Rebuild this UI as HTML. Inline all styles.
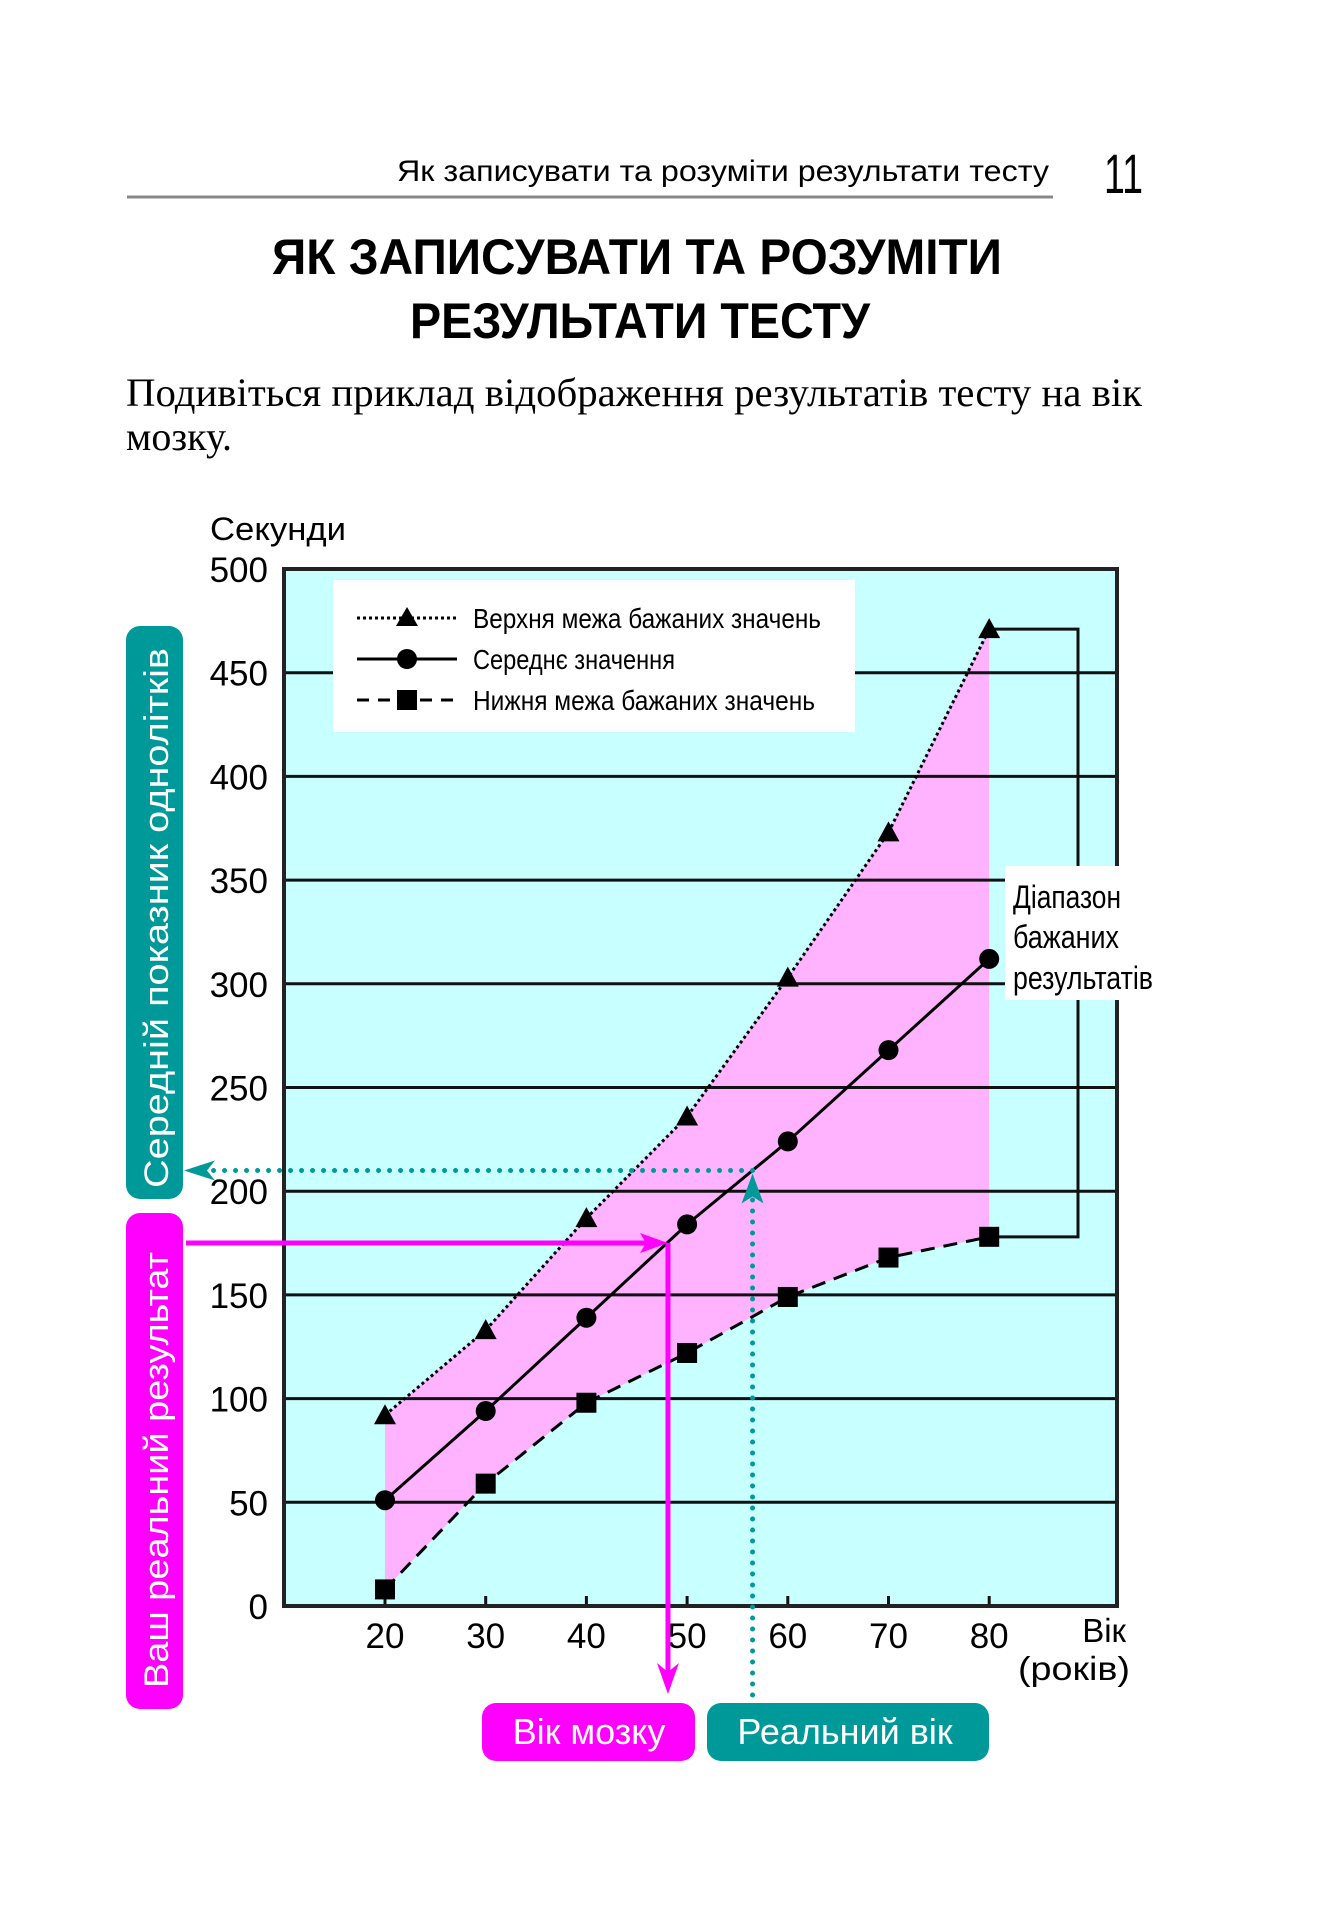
<!DOCTYPE html>
<html><head><meta charset="utf-8">
<style>
html,body{margin:0;padding:0;background:#fff;}
svg{display:block;}
text{font-family:"Liberation Sans","DejaVu Sans",sans-serif;}
.serif{font-family:"Liberation Serif","DejaVu Serif",serif;}
</style></head>
<body>
<svg id="page" width="1339" height="1929" viewBox="0 0 1339 1929" xmlns="http://www.w3.org/2000/svg">
  <text x="1049" y="181" font-size="30" text-anchor="end" textLength="652" lengthAdjust="spacingAndGlyphs">Як записувати та розуміти результати тесту</text>
  <line x1="127" y1="197" x2="1053" y2="197" stroke="#888" stroke-width="3"/>
  <text x="1104" y="193" font-size="56" textLength="39" lengthAdjust="spacingAndGlyphs">11</text>

  <text x="637" y="274" font-size="50" font-weight="bold" text-anchor="middle" textLength="730" lengthAdjust="spacingAndGlyphs">ЯК ЗАПИСУВАТИ ТА РОЗУМІТИ</text>
  <text x="640" y="338" font-size="50" font-weight="bold" text-anchor="middle" textLength="460" lengthAdjust="spacingAndGlyphs">РЕЗУЛЬТАТИ ТЕСТУ</text>

  <text class="serif" x="126" y="406" font-size="40" textLength="1016" lengthAdjust="spacingAndGlyphs">Подивіться приклад відображення результатів тесту на вік</text>
  <text class="serif" x="126" y="450" font-size="40" textLength="106" lengthAdjust="spacingAndGlyphs">мозку.</text>

  <g id="chart"></g>
</svg>
<script>
// ---- chart data ----
const ages = [20, 30, 40, 50, 60, 70, 80];
const upperValues = [92, 133, 187, 236, 303, 373, 471];
const meanValues = [51, 94, 139, 184, 224, 268, 312];
const lowerValues = [8, 59, 98, 122, 149, 168, 178];
const yTicks = [0, 50, 100, 150, 200, 250, 300, 350, 400, 450, 500];
const xTickLabels = ["20", "30", "40", "50", "60", "70", "80"];
const resultValue = 175;   // your actual result
const brainAge = 48.1;
const realAge = 56.5;
const peerValue = 210;

const NS = "http://www.w3.org/2000/svg";
const L = 284, R = 1117, T = 569, B = 1606;
function xs(a){ return 385 + (a - 20) * 10.07; }
function ys(v){ return B - v * 2.074; }
const g = document.getElementById('chart');
function mk(tag, attrs, parent){
  const e = document.createElementNS(NS, tag);
  for (const k in attrs) e.setAttribute(k, attrs[k]);
  (parent || g).appendChild(e);
  return e;
}

let e = mk('rect', {x:L, y:T, width:R-L, height:B-T, fill:'#c8ffff'});



let pts = ages.map((a,i)=>xs(a)+','+ys(upperValues[i]));
for (let i = ages.length-1; i >= 0; i--) pts.push(xs(ages[i])+','+ys(lowerValues[i]));
e = mk('polygon', {points: pts.join(' '), fill:'#ffb3ff'});



yTicks.forEach(v => {
  if (v === 0 || v === 500) return;
  const ln = mk('line', {x1:L, x2:R, y1:ys(v), y2:ys(v), stroke:'#111', 'stroke-width':3});
  
  
});

yTicks.forEach(v => {
  const t = mk('text', {x:268, y:ys(v)+13, 'font-size':35, 'text-anchor':'end'});
  t.textContent = v;
  
  
});

ages.forEach((a,i) => {
  const tk = mk('line', {x1:xs(a), x2:xs(a), y1:B, y2:B-10, stroke:'#111', 'stroke-width':3});
  
  
  const t = mk('text', {x:xs(a), y:1648, 'font-size':35, 'text-anchor':'middle'});
  t.textContent = xTickLabels[i];
  
  
});

const bx = 1078;
e = mk('polyline', {points: xs(80)+','+ys(upperValues[6])+' '+bx+','+ys(upperValues[6])+' '+bx+','+ys(lowerValues[6])+' '+xs(80)+','+ys(lowerValues[6]), fill:'none', stroke:'#111', 'stroke-width':3});



e = mk('rect', {x:L, y:T, width:R-L, height:B-T, fill:'none', stroke:'#222', 'stroke-width':4});



e = mk('rect', {x:1005, y:866, width:157, height:134, fill:'#fff'});


[['Діапазон',908,108],['бажаних',948,106],['результатів',989,140]].forEach((r,i)=>{
  const t = mk('text', {x:1013, y:r[1], 'font-size':32, textLength:r[2], lengthAdjust:'spacingAndGlyphs'});
  t.textContent = r[0];
  
  
});

function line(vals, dash, name){
  const p = ages.map((a,i)=>xs(a)+','+ys(vals[i])).join(' ');
  const attrs = {points:p, fill:'none', stroke:'#000', 'stroke-width':3};
  if (dash) attrs['stroke-dasharray'] = dash;
  const pl = mk('polyline', attrs);
  
  
}
line(upperValues, '3 3', 'upper-bound-line');
line(meanValues, null, 'mean-line');
line(lowerValues, '14 9', 'lower-bound-line');

ages.forEach((a,i) => {
  const x = xs(a), yu = ys(upperValues[i]);
  const tri = mk('polygon', {points:(x)+','+(yu-11)+' '+(x-11)+','+(yu+9)+' '+(x+11)+','+(yu+9), fill:'#000'});
  
  
  const c = mk('circle', {cx:x, cy:ys(meanValues[i]), r:10, fill:'#000'});
  
  
  const s = mk('rect', {x:x-10, y:ys(lowerValues[i])-10, width:20, height:20, fill:'#000'});
  
  
});

e = mk('rect', {x:333, y:580, width:522, height:152, fill:'#fff'});


const legRows = [
  {y:618, text:'Верхня межа бажаних значень', len:348, dash:'3 3', m:'tri', name:'legend-entry-upper'},
  {y:659, text:'Середнє значення', len:202, dash:null, m:'circ', name:'legend-entry-mean'},
  {y:700, text:'Нижня межа бажаних значень', len:342, dash:'12 9', m:'sq', name:'legend-entry-lower'}
];
legRows.forEach(r => {
  const gg = mk('g', {});
  
  
  const la = {x1:357, x2:457, y1:r.y, y2:r.y, stroke:'#000', 'stroke-width':3};
  if (r.dash) la['stroke-dasharray'] = r.dash;
  mk('line', la, gg);
  if (r.m==='tri') mk('polygon', {points:'407,'+(r.y-11)+' 396,'+(r.y+8)+' 418,'+(r.y+8), fill:'#000'}, gg);
  if (r.m==='circ') mk('circle', {cx:407, cy:r.y, r:10, fill:'#000'}, gg);
  if (r.m==='sq') mk('rect', {x:397, y:r.y-10, width:20, height:20, fill:'#000'}, gg);
  const t = mk('text', {x:473, y:r.y+10, 'font-size':28, textLength:r.len, lengthAdjust:'spacingAndGlyphs'}, gg);
  t.textContent = r.text;
});

e = mk('text', {x:210, y:540, 'font-size':32, textLength:136, lengthAdjust:'spacingAndGlyphs'});
e.textContent = 'Секунди';


e = mk('text', {x:1126, y:1642, 'font-size':33, 'text-anchor':'end'});
e.textContent = 'Вік';


e = mk('text', {x:1130, y:1680, 'font-size':33, 'text-anchor':'end', textLength:112, lengthAdjust:'spacingAndGlyphs'});
e.textContent = '(років)';



const TEAL = '#009999', MAG = '#ff00ff';
const xr = xs(realAge), yp = ys(peerValue);
e = mk('line', {x1:xr, y1:yp, x2:208, y2:yp, stroke:TEAL, 'stroke-width':5, 'stroke-dasharray':'0 11', 'stroke-linecap':'round'});


e = mk('polygon', {points:'184,'+yp+' 215,'+(yp-10)+' 207,'+yp+' 215,'+(yp+10), fill:TEAL});


e = mk('line', {x1:xr, y1:1695, x2:xr, y2:yp+28, stroke:TEAL, 'stroke-width':5, 'stroke-dasharray':'0 11', 'stroke-linecap':'round'});


e = mk('polygon', {points:xr+','+(yp+3)+' '+(xr-11)+','+(yp+33)+' '+xr+','+(yp+26)+' '+(xr+11)+','+(yp+33), fill:TEAL});



const xb = xs(brainAge), yres = ys(resultValue);
e = mk('line', {x1:186, y1:yres, x2:xb-18, y2:yres, stroke:MAG, 'stroke-width':5});


e = mk('polygon', {points:xb+','+yres+' '+(xb-28)+','+(yres-10)+' '+(xb-22)+','+yres+' '+(xb-28)+','+(yres+10), fill:MAG});


e = mk('line', {x1:xb, y1:yres, x2:xb, y2:1675, stroke:MAG, 'stroke-width':5});


e = mk('polygon', {points:xb+','+1694+' '+(xb-11)+','+1663+' '+xb+','+1672+' '+(xb+11)+','+1663, fill:MAG});



e = mk('rect', {x:126, y:626, width:57, height:573, rx:14, fill:TEAL});


e = mk('text', {x:0, y:0, 'font-size':34, fill:'#fff', 'text-anchor':'middle', transform:'translate(168,918) rotate(-90)', textLength:540, lengthAdjust:'spacingAndGlyphs'});
e.textContent = 'Середній показник однолітків';


e = mk('rect', {x:126, y:1213, width:57, height:496, rx:14, fill:MAG});


e = mk('text', {x:0, y:0, 'font-size':34, fill:'#fff', 'text-anchor':'middle', transform:'translate(168,1470) rotate(-90)', textLength:436, lengthAdjust:'spacingAndGlyphs'});
e.textContent = 'Ваш реальний результат';



e = mk('rect', {x:482, y:1703, width:213, height:58, rx:14, fill:MAG});


e = mk('text', {x:589, y:1744, 'font-size':36, fill:'#fff', 'text-anchor':'middle'});
e.textContent = 'Вік мозку';


e = mk('rect', {x:707, y:1703, width:282, height:58, rx:14, fill:TEAL});


e = mk('text', {x:845, y:1744, 'font-size':36, fill:'#fff', 'text-anchor':'middle'});
e.textContent = 'Реальний вік';


</script>
</body></html>
